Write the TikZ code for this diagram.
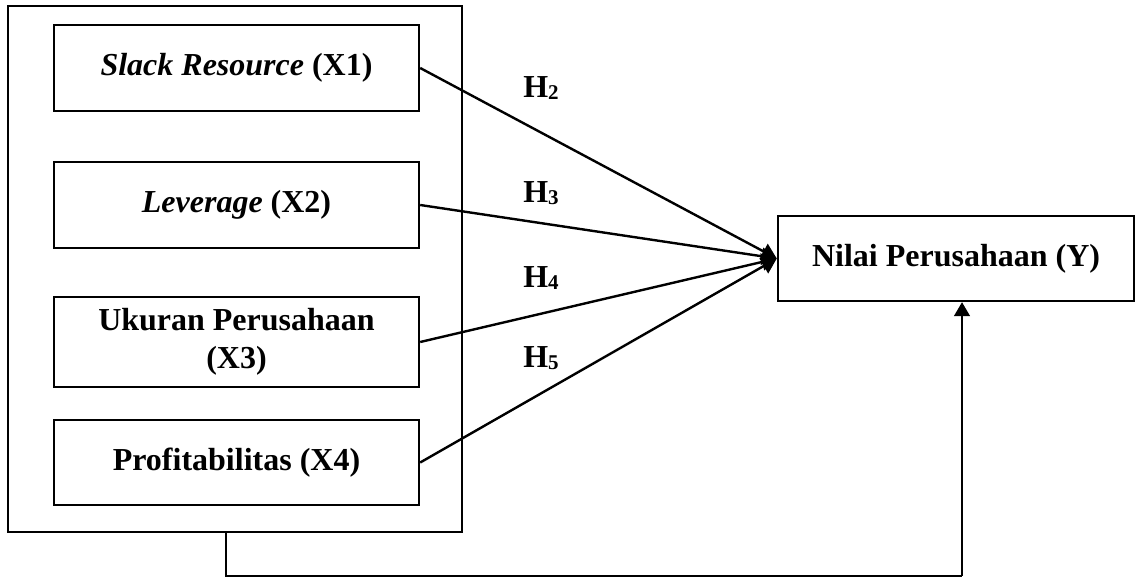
\documentclass[tikz,border=0pt]{standalone}
\usepackage{fontspec}
\setmainfont{Liberation Serif}
\usetikzlibrary{arrows.meta}
\usetikzlibrary{positioning}

\tikzset{
  varbox/.style={draw, line width=2.4pt, minimum width=365pt, minimum height=86pt,
    inner sep=0pt, align=center, font=\fontsize{32}{38}\selectfont\bfseries},
  hyp/.style={font=\fontsize{32}{36}\selectfont\bfseries, inner sep=0pt},
  arr/.style={line width=2.4pt, -{Triangle[length=15pt,width=17pt]}}
}

\begin{document}
\begin{tikzpicture}[x=1pt,y=-1pt]
	\useasboundingbox (0,0) rectangle (1137,578);
	% independent variables
	\node[draw, line width=2.4pt, minimum width=454pt, minimum height=526pt] (frame) at (235,269) {};
	\node[varbox] (x1) at (236.5,68) {\textit{Slack Resource} (X1)};
	\node[varbox] (x2) at (236.5,205) {\textit{Leverage} (X2)};
	\node[varbox, minimum height=90pt] (x3) at (236.5,342) {Ukuran Perusahaan\\(X3)};
	\node[varbox, minimum height=85pt] (x4) at (236.5,462.5) {Profitabilitas (X4)};
	% dependent variable
	\node[varbox, minimum width=356pt, minimum height=85pt] (y) at (956,258.5) {Nilai Perusahaan (Y)};
	% hypotheses
	\foreach \n/\h/\yy in {1/2/88, 2/3/193, 3/4/278, 4/5/358} {
		\node[hyp] (h\h) at (541,\yy) {H\raisebox{-2pt}{\fontsize{21}{21}\selectfont\h}};
		\draw[arr] (x\n.east) -- (y.west);
	}
	% simultaneous path
	\coordinate (c1) at (226,576);
	\coordinate (c2) at (962,576);
	\draw[line width=1.5pt] (frame.south -| c1) -- (c1) -- (c2);
	\draw[line width=1.5pt, -{Triangle[length=14pt,width=16pt]}] (c2) -- (y.south -| c2);
\end{tikzpicture}
\end{document}
